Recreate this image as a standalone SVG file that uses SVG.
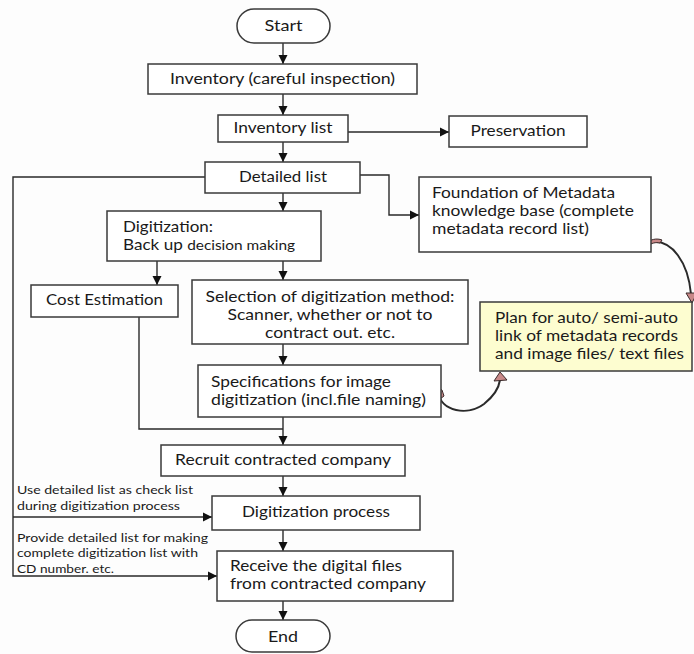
<svg xmlns="http://www.w3.org/2000/svg" width="694" height="654" viewBox="0 0 694 654">
<defs>
<marker id="ah" markerWidth="10" markerHeight="10" refX="9" refY="5" orient="auto" markerUnits="userSpaceOnUse">
<path d="M0,0.5 L9,5 L0,9.5 Z" fill="#111"/>
</marker>
<style>
.box{fill:#fff;stroke:#3a3a3a;stroke-width:1.5}
.yel{fill:#fdfdd0;stroke:#3a3a3a;stroke-width:1.5}
.t{font-family:Lato,"Liberation Sans",sans-serif;font-size:15px;fill:#1a1a1a}
.s{font-family:Lato,"Liberation Sans",sans-serif;font-size:12px;fill:#1a1a1a}
.c{text-anchor:middle}
.ln{fill:none;stroke:#2a2a2a;stroke-width:1.4}
.cur{fill:none;stroke:#2a2a2a;stroke-width:2}
.pk{fill:#c98888;stroke:#3a2a2a;stroke-width:1}
</style>
</defs>
<rect width="694" height="654" fill="#fdfdfd"/>

<g id="connectors">
<path class="ln" d="M283 43 V64" marker-end="url(#ah)"/>
<path class="ln" d="M283 94 V115" marker-end="url(#ah)"/>
<path class="ln" d="M348 132 H449" marker-end="url(#ah)"/>
<path class="ln" d="M283 142 V162" marker-end="url(#ah)"/>
<path class="ln" d="M360 175 H389 V215 H419" marker-end="url(#ah)"/>
<path class="ln" d="M283 193 V211" marker-end="url(#ah)"/>
<path class="ln" d="M157 261 V285" marker-end="url(#ah)"/>
<path class="ln" d="M283 261 V280" marker-end="url(#ah)"/>
<path class="ln" d="M283 344 V365" marker-end="url(#ah)"/>
<path class="ln" d="M283 417 V445" marker-end="url(#ah)"/>
<path class="ln" d="M139 317 V429 H283"/>
<path class="ln" d="M283 476 V496" marker-end="url(#ah)"/>
<path class="ln" d="M205 177 H13 V576 H217" marker-end="url(#ah)"/>
<path class="ln" d="M13 517 H212" marker-end="url(#ah)"/>
<path class="ln" d="M283 530 V551" marker-end="url(#ah)"/>
<path class="ln" d="M283 601 V620" marker-end="url(#ah)"/>
<path class="cur" d="M652 242 C 672 240, 688 262, 691 294"/>
<path class="pk" d="M646 244 C 650 239, 657 238, 662 240 L 660 243 C 656 242, 651 243, 648 246 Z"/>
<path class="pk" d="M686 293 L 697 293 L 692 303 Z"/>
<path class="cur" d="M438 392 C 441 412, 468 416, 484 404 C 494 396, 499 387, 500 380"/>
<path class="pk" d="M434 393 C 436 390, 440 388, 442 390 L 444 396 L 440 399 C 438 397, 436 395, 434 393 Z"/>
<path class="pk" d="M494 381 L 500 372 L 507 380 Z"/>
</g>

<g id="start">
<rect class="box" x="237" y="9" width="93" height="34" rx="17"/>
<text class="t c" x="283.5" y="31" textLength="38" lengthAdjust="spacingAndGlyphs">Start</text>
</g>
<g id="inventory">
<rect class="box" x="148" y="64" width="269" height="30"/>
<text class="t c" x="282.5" y="84" textLength="225" lengthAdjust="spacingAndGlyphs">Inventory (careful inspection)</text>
</g>
<g id="inventory-list">
<rect class="box" x="218" y="115" width="130" height="27"/>
<text class="t c" x="283" y="133" textLength="99" lengthAdjust="spacingAndGlyphs">Inventory list</text>
</g>
<g id="preservation">
<rect class="box" x="449" y="116" width="138" height="31"/>
<text class="t c" x="518" y="136" textLength="95" lengthAdjust="spacingAndGlyphs">Preservation</text>
</g>
<g id="detailed-list">
<rect class="box" x="205" y="162" width="155" height="31"/>
<text class="t c" x="283" y="182" textLength="88" lengthAdjust="spacingAndGlyphs">Detailed list</text>
</g>
<g id="foundation">
<rect class="box" x="419" y="177" width="232" height="75"/>
<text class="t" x="432" y="198" textLength="183" lengthAdjust="spacingAndGlyphs">Foundation of Metadata</text>
<text class="t" x="432" y="216" textLength="202" lengthAdjust="spacingAndGlyphs">knowledge base (complete</text>
<text class="t" x="432" y="234" textLength="157" lengthAdjust="spacingAndGlyphs">metadata record list)</text>
</g>
<g id="digitization">
<rect class="box" x="107" y="211" width="214" height="50"/>
<text class="t" x="123" y="232" textLength="90" lengthAdjust="spacingAndGlyphs">Digitization:</text>
<text class="t" x="123" y="250" textLength="172" lengthAdjust="spacingAndGlyphs">Back up <tspan font-size="13.5px">decision making</tspan></text>
</g>
<g id="cost-estimation">
<rect class="box" x="31" y="285" width="147" height="32"/>
<text class="t c" x="104.5" y="305" textLength="117" lengthAdjust="spacingAndGlyphs">Cost Estimation</text>
</g>
<g id="selection">
<rect class="box" x="192" y="280" width="276" height="64"/>
<text class="t c" x="330" y="302" textLength="249" lengthAdjust="spacingAndGlyphs">Selection of digitization method:</text>
<text class="t c" x="330" y="320" textLength="205" lengthAdjust="spacingAndGlyphs">Scanner, whether or not to</text>
<text class="t c" x="330" y="338" textLength="130" lengthAdjust="spacingAndGlyphs">contract out. etc.</text>
</g>
<g id="specifications">
<rect class="box" x="198" y="365" width="243" height="52"/>
<text class="t" x="211" y="387" textLength="180" lengthAdjust="spacingAndGlyphs">Specifications for image</text>
<text class="t" x="211" y="405" textLength="215" lengthAdjust="spacingAndGlyphs">digitization (incl.file naming)</text>
</g>
<g id="plan">
<rect class="yel" x="480" y="302" width="212" height="69"/>
<text class="t" x="495" y="323" textLength="183" lengthAdjust="spacingAndGlyphs">Plan for auto/ semi-auto</text>
<text class="t" x="495" y="341" textLength="183" lengthAdjust="spacingAndGlyphs">link of metadata records</text>
<text class="t" x="495" y="359" textLength="189" lengthAdjust="spacingAndGlyphs">and image files/ text files</text>
</g>
<g id="recruit">
<rect class="box" x="161" y="445" width="244" height="31"/>
<text class="t c" x="283" y="465" textLength="216" lengthAdjust="spacingAndGlyphs">Recruit contracted company</text>
</g>
<g id="digitization-process">
<rect class="box" x="212" y="496" width="208" height="34"/>
<text class="t c" x="316" y="517" textLength="148" lengthAdjust="spacingAndGlyphs">Digitization process</text>
</g>
<g id="receive">
<rect class="box" x="217" y="551" width="236" height="50"/>
<text class="t" x="230" y="571" textLength="172" lengthAdjust="spacingAndGlyphs">Receive the digital files</text>
<text class="t" x="230" y="589" textLength="196" lengthAdjust="spacingAndGlyphs">from contracted company</text>
</g>
<g id="end">
<rect class="box" x="236" y="620" width="94" height="32" rx="16"/>
<text class="t c" x="283" y="642" textLength="30" lengthAdjust="spacingAndGlyphs">End</text>
</g>
<g id="labels">
<text class="s" x="17" y="494" textLength="176" lengthAdjust="spacingAndGlyphs">Use detailed list as check list</text>
<text class="s" x="17" y="510" textLength="163" lengthAdjust="spacingAndGlyphs">during digitization process</text>
<text class="s" x="17" y="542" textLength="191" lengthAdjust="spacingAndGlyphs">Provide detailed list for making</text>
<text class="s" x="17" y="557" textLength="181" lengthAdjust="spacingAndGlyphs">complete digitization list with</text>
<text class="s" x="17" y="573" textLength="97" lengthAdjust="spacingAndGlyphs">CD number. etc.</text>
</g>
</svg>
